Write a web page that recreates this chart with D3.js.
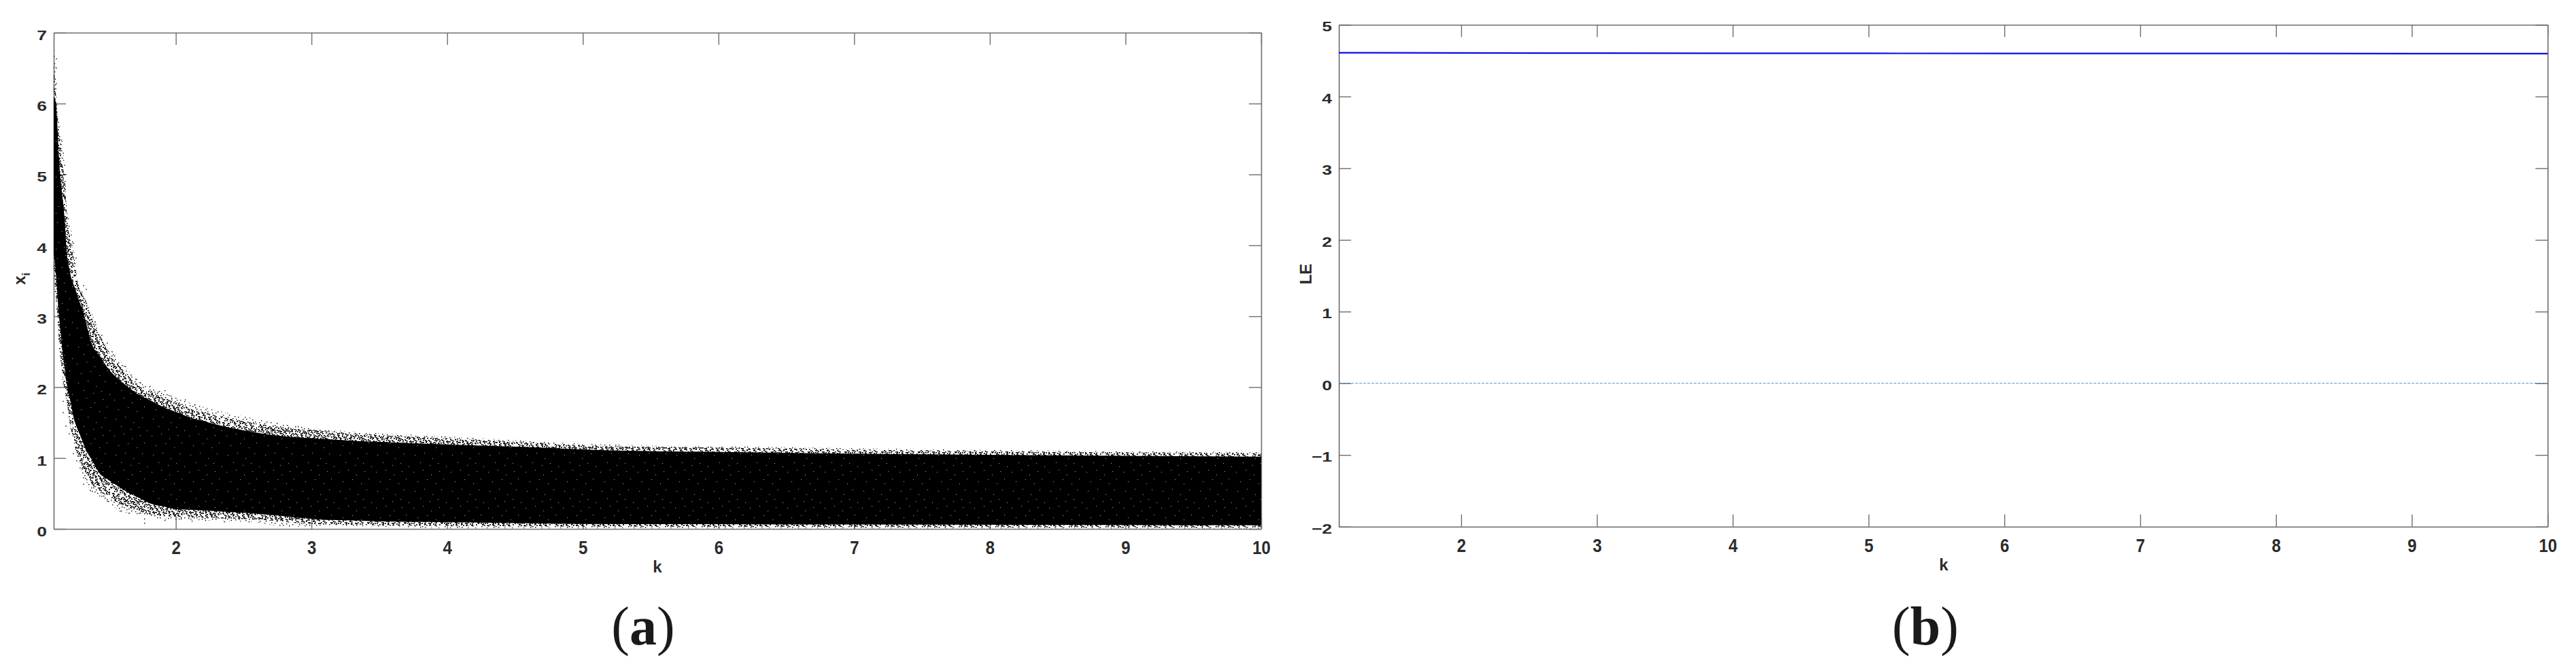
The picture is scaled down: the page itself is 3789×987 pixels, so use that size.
<!DOCTYPE html>
<html><head><meta charset="utf-8">
<script src="https://cdn.jsdelivr.net/npm/d3@7"></script>
<style>html,body{margin:0;padding:0;background:#fff}svg{display:block}</style>
</head><body><svg id="c" width="3789" height="987"></svg>
<script>
// ---- values ----
const xTicks = [2,3,4,5,6,7,8,9,10];
const yTicksA = [0,1,2,3,4,5,6,7];
const yTicksB = [-2,-1,0,1,2,3,4,5];
// panel a: outer limit of the cloud [k, x_i]
const cloudOuterTop = [[1.1,6.85],[1.11,6.6],[1.125,6.02],[1.16,5.47],[1.185,5.06],[1.195,4.52],[1.245,4.03],[1.27,3.56],[1.34,3.21],[1.415,2.89],[1.455,2.69],[1.53,2.5],[1.63,2.28],[1.74,2.06],[1.92,1.93],[2.07,1.8],[2.22,1.71],[2.44,1.61],[2.62,1.54],[2.84,1.47],[3.09,1.4],[3.34,1.37],[3.83,1.32],[4.15,1.29],[4.51,1.25],[5.01,1.2],[6.2,1.16],[8.27,1.11],[10,1.083]];
const cloudOuterBottom = [[1.1,3.62],[1.125,2.98],[1.14,2.54],[1.17,2.02],[1.205,1.77],[1.22,1.45],[1.255,1.2],[1.295,0.87],[1.37,0.54],[1.455,0.44],[1.59,0.25],[1.9,0.14],[2.22,0.12],[2.56,0.1],[2.84,0.03],[3.17,0.05],[3.67,0.02],[4,0.01],[10,0.005]];
// panel a: limit of the closely packed part [k, x_i]
const cloudMidTop = [[1.1,6.6],[1.125,5.9],[1.16,5.2],[1.185,4.85],[1.2,4.35],[1.24,3.95],[1.28,3.45],[1.35,3.12],[1.43,2.75],[1.53,2.42],[1.63,2.2],[1.74,2],[1.92,1.85],[2.1,1.71],[2.3,1.6],[2.55,1.5],[2.84,1.42],[3.34,1.34],[3.85,1.29],[4.5,1.23],[5,1.18],[6.2,1.14],[8.3,1.09],[10,1.07]];
const cloudMidBottom = [[1.1,3.68],[1.125,3.08],[1.14,2.65],[1.165,2.15],[1.19,1.85],[1.23,1.38],[1.27,1.05],[1.31,0.85],[1.37,0.66],[1.45,0.52],[1.6,0.34],[1.8,0.2],[2,0.17],[2.3,0.15],[2.6,0.13],[3,0.07],[3.5,0.05],[4.2,0.04],[5,0.03],[10,0.02]];
// panel a: limit of the solid part of the cloud [k, x_i]
const cloudCoreTop = [[1.1,6.1],[1.115,6.02],[1.145,5.06],[1.18,4.39],[1.195,3.94],[1.22,3.62],[1.27,3.31],[1.33,2.98],[1.37,2.67],[1.47,2.35],[1.59,2.09],[1.72,1.9],[1.92,1.71],[2.14,1.55],[2.39,1.43],[2.56,1.37],[2.84,1.3],[3.34,1.24],[3.85,1.2],[4.51,1.16],[5.01,1.12],[6.2,1.08],[8.3,1.04],[10,1.02]];
const cloudCoreBottom = [[1.1,3.9],[1.115,3.62],[1.14,2.98],[1.165,2.5],[1.195,2.06],[1.255,1.51],[1.34,1.1],[1.455,0.75],[1.64,0.52],[1.81,0.36],[1.99,0.28],[2.22,0.26],[2.56,0.22],[3.01,0.14],[3.51,0.105],[4.18,0.09],[5.01,0.07],[10,0.05]];
// panel a: isolated points [k, x_i]
const strayPoints = [[1.16,5.47],[1.17,5.3],[1.155,5.42],[1.18,5.13],[1.19,5],[1.175,4.84],[1.2,4.39],[1.22,4.07],[1.245,4.03],[1.22,3.94],[1.265,3.82],[1.24,3.72],[1.12,6.63],[1.12,6.5],[1.12,6.28],[1.32,3.43],[1.34,3.38],[1.335,3.22],[1.34,3.18],[1.305,3.31],[1.37,2.95],[1.405,2.92],[1.415,2.83],[1.39,2.79],[1.455,2.73],[1.495,2.62],[1.44,2.67],[1.53,2.5],[1.57,2.33],[1.63,2.29],[1.67,2.17],[1.74,2.06],[1.71,2.11],[1.81,2.01],[1.92,1.95],[1.87,1.93],[1.97,1.83],[2.07,1.82],[2.14,1.75],
 [1.17,1.8],[1.17,1.64],[1.19,1.45],[1.215,1.34],[1.245,1.06],[1.27,0.96],[1.295,0.86],[1.32,0.72],[1.32,0.63],[1.37,0.54],[1.395,0.58],[1.455,0.46],[1.495,0.39],[1.59,0.25],[1.655,0.22],[1.73,0.22],[1.77,0.14],[1.77,0.08],[1.92,0.12],[2.04,0.14],[2.12,0.11],[2.22,0.12],[2.36,0.1],[2.41,0.12],[2.54,0.1]];
// panel b: Lyapunov exponent
const leK = [1.1,2,3,4,5,6,7,8,9,10];
const leValues = [4.61,4.608,4.605,4.603,4.602,4.601,4.6,4.6,4.599,4.598];
const zeroK = [1.1,10];
const zeroValues = [0,0];

// ---- layout and style ----
const A = {l:79,r:1855,t:48,b:778}, B = {l:1969.3,r:3747.3,t:36.5,b:774.7};
const axisColor = "#6e6e6e", textColor = "#2b2b2b";
const fontBold = "'Liberation Sans',Arial,sans-serif";
const svg = d3.select("#c");
const defs = svg.append("defs");

// texture tiles for the cloud (appearance only, not data)
const sparseDots = [[2,3],[9,1],[15,6],[23,2],[31,5],[38,1],[46,4],[51,9],[5,10],[12,13],[20,9],[27,12],[35,10],[42,13],[49,16],[1,18],[8,20],[17,17],[24,21],[30,18],[39,20],[45,23],[4,27],[13,25],[19,29],[28,26],[34,28],[41,30],[50,27],[7,34],[15,33],[22,36],[31,34],[37,37],[47,35],[2,40],[11,41],[18,43],[26,41],[33,44],[43,42],[52,43],[6,46],[14,48],[24,47],[40,48],[48,49],[29,50]];
const densePairs = [[4,1],[6,3],[11,4],[18,3],[21,6],[26,1],[29,8],[34,3],[41,6],[44,1],[49,6],[1,7],[7,8],[14,9],[24,8],[32,9],[38,8],[46,9],[3,14],[10,15],[16,12],[22,14],[29,15],[36,13],[44,16],[52,13],[6,18],[13,19],[20,18],[27,20],[33,17],[41,18],[47,20],[2,23],[9,24],[16,23],[23,25],[31,23],[37,24],[44,26],[51,22],[6,29],[11,30],[17,27],[25,30],[32,30],[39,27],[46,30],[1,33],[10,35],[19,33],[27,35],[35,33],[42,35],[50,33],[4,38],[13,38],[21,40],[29,38],[36,41],[45,39],[8,43],[16,45],[23,44],[31,47],[38,44],[47,45],[3,49],[11,50],[20,49],[27,46],[35,49],[43,49],[51,48]];
function dotTile(id, lists, size){
  const p = defs.append("pattern").attr("id",id).attr("patternUnits","userSpaceOnUse").attr("width",54).attr("height",52);
  lists.forEach(l=>l.forEach(s=>p.append("rect").attr("x",s[0]).attr("y",s[1]).attr("width",size).attr("height",size).attr("fill","#000")));
}
dotTile("sparse",[sparseDots,densePairs],1.4);
dotTile("dense",[sparseDots,densePairs,densePairs.map(d=>[(d[0]+2)%54,(d[1]+1)%52]),densePairs.map(d=>[(d[0]+1)%54,(d[1]+3)%52]),sparseDots.map(d=>[(d[0]+27)%54,(d[1]+15)%52]),sparseDots.map(d=>[(d[0]+3)%54,(d[1]+31)%52])],1.7);
const specks = [[3,5],[17,2],[29,9],[41,4],[9,19],[23,16],[36,22],[47,15],[5,33],[19,30],[31,38],[44,31],[13,44],[27,48],[39,45],[51,50]];
const ps = defs.append("pattern").attr("id","specks").attr("patternUnits","userSpaceOnUse").attr("width",55).attr("height",53);
ps.append("rect").attr("width",55).attr("height",53).attr("fill","#000");
specks.forEach(s=>ps.append("rect").attr("x",s[0]).attr("y",s[1]).attr("width",1.1).attr("height",1.1).attr("fill","#9a9a9a"));

function makeAxes(box, yDomain, yTicks, labelDy){
  const x = d3.scaleLinear().domain([1.1,10]).range([box.l,box.r]);
  const y = d3.scaleLinear().domain(yDomain).range([box.b,box.t]);
  const g = svg.append("g");
  const blank = ()=>"";
  const tick = 18;
  const left = d3.axisLeft(y).tickValues(yTicks).tickSizeInner(-tick).tickSizeOuter(0).tickPadding(10).tickFormat(d3.format("d"));
  const bottom = d3.axisBottom(x).tickValues(xTicks).tickSizeInner(-tick).tickSizeOuter(0).tickPadding(10).tickFormat(d3.format("d"));
  const right = d3.axisRight(y).tickValues(yTicks).tickSizeInner(-tick).tickSizeOuter(0).tickFormat(blank);
  const top = d3.axisTop(x).tickValues(xTicks).tickSizeInner(-tick).tickSizeOuter(0).tickFormat(blank);
  const gl = g.append("g").attr("transform",`translate(${box.l},0)`).call(left);
  const gb = g.append("g").attr("transform",`translate(0,${box.b})`).call(bottom);
  const gr = g.append("g").attr("transform",`translate(${box.r},0)`).call(right);
  const gt = g.append("g").attr("transform",`translate(0,${box.t})`).call(top);
  [gl,gb,gr,gt].forEach(a=>{
    a.selectAll("path.domain").attr("stroke",axisColor).attr("stroke-width",1.6);
    a.selectAll(".tick line").attr("stroke",axisColor).attr("stroke-width",1.4);
  });
  const sxY = 1.26, syX = 1.13;
  gl.selectAll("text").attr("font-family",fontBold).attr("font-weight","bold").attr("font-size",21).attr("fill",textColor)
    .attr("text-anchor","end").attr("x",-10/sxY).attr("dy",null).attr("y",labelDy+7.3)
    .attr("transform",`scale(${sxY},1)`);
  gb.selectAll("text").attr("font-family",fontBold).attr("font-weight","bold").attr("font-size",24).attr("fill",textColor)
    .attr("dy",null).attr("y",37/syX).attr("transform",`scale(1,${syX})`);
  return {x,y,g};
}
function label(x,y,txt,size,rot){
  return svg.append("text").attr("transform",`translate(${x},${y})`+(rot?" rotate(-90)":""))
    .attr("text-anchor","middle").attr("font-family",fontBold).attr("font-weight","bold")
    .attr("font-size",size).attr("fill",textColor).text(txt);
}

// ---- panel a ----
const a = makeAxes(A,[0,7],yTicksA,3);
defs.append("clipPath").attr("id","pa").append("rect").attr("x",A.l).attr("y",A.t).attr("width",A.r-A.l).attr("height",A.b-A.t);
const band = (top,bottom)=>{
  const tf = d3.scaleLinear().domain(top.map(d=>d[0])).range(top.map(d=>d[1]));
  const bf = d3.scaleLinear().domain(bottom.map(d=>d[0])).range(bottom.map(d=>d[1]));
  const ks = Array.from(new Set(top.map(d=>d[0]).concat(bottom.map(d=>d[0])))).sort(d3.ascending);
  return d3.area().curve(d3.curveMonotoneX).x(d=>a.x(d)).y0(d=>a.y(bf(d))).y1(d=>a.y(tf(d)))(ks);
};
const cloud = svg.append("g").attr("clip-path","url(#pa)");
cloud.append("path").attr("d",band(cloudOuterTop,cloudOuterBottom)).attr("fill","url(#sparse)");
cloud.append("path").attr("d",band(cloudMidTop,cloudMidBottom)).attr("fill","url(#dense)");
cloud.append("path").attr("d",band(cloudCoreTop,cloudCoreBottom)).attr("fill","url(#specks)");
cloud.selectAll("rect.stray").data(strayPoints).join("rect").attr("class","stray")
  .attr("x",d=>a.x(d[0])-0.7).attr("y",d=>a.y(d[1])-0.7).attr("width",1.4).attr("height",1.4).attr("fill","#000");
label(967,842,"k",24,false);
const ylA = svg.append("text").attr("transform","translate(37,410) rotate(-90)").attr("text-anchor","middle")
  .attr("font-family",fontBold).attr("font-weight","bold").attr("font-size",24).attr("fill",textColor);
ylA.append("tspan").text("x");
ylA.append("tspan").attr("font-size",17).attr("dy",7).text("i");

// ---- panel b ----
const b = makeAxes(B,[-2,5],yTicksB,2);
const line = d3.line().x(d=>b.x(d[0])).y(d=>b.y(d[1]));
svg.append("path").attr("d",line(d3.zip(zeroK,zeroValues))).attr("fill","none").attr("stroke","#4a8fd0").attr("stroke-width",1.1).attr("stroke-dasharray","4 2");
svg.append("path").attr("d",line(d3.zip(leK,leValues))).attr("fill","none").attr("stroke","#0a0aee").attr("stroke-width",2.2);
label(2859,839,"k",24,false);
label(1929,403,"LE",24,true);

// ---- captions ----
[["(a)",946],["(b)",2832]].forEach(c=>{
  const t = svg.append("text").attr("x",c[1]).attr("y",948).attr("text-anchor","middle")
    .attr("font-family","'Liberation Serif',serif").attr("font-size",80).attr("fill","#1a1a1a");
  t.append("tspan").text("(");
  t.append("tspan").attr("font-weight","bold").text(c[0][1]);
  t.append("tspan").text(")");
});
</script></body></html>
